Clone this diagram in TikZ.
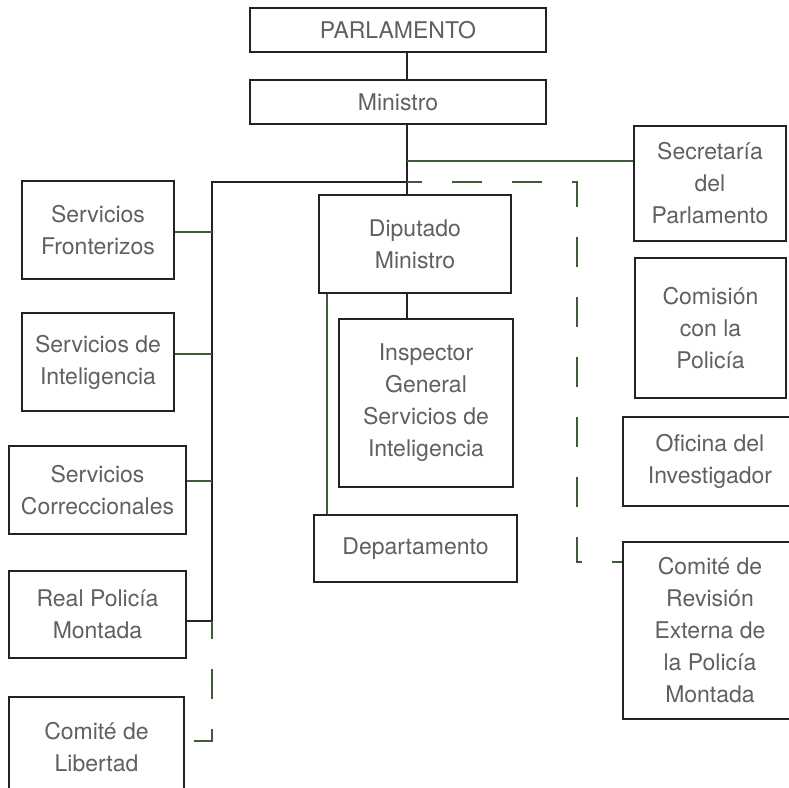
\documentclass[tikz,border=0pt]{standalone}
\usepackage{fontspec}
\setmainfont{TeX Gyre Heros}
\usepackage{xcolor}
\usepackage{tikz}
\usetikzlibrary{calc}

\definecolor{orgline}{HTML}{222222}
\definecolor{orggreen}{HTML}{3E5C38}
\definecolor{orgtext}{HTML}{606060}

\begin{document}
\begin{tikzpicture}[x=1pt, y=-1pt,
    box/.style={draw=orgline, line width=2.5pt, inner sep=0pt, align=center,
        text=orgtext, font=\fontsize{23}{32}\selectfont},
    blackline/.style={draw=orgline, line width=2.5pt},
    greenline/.style={draw=orggreen, line width=2.2pt},
    greendash/.style={draw=orggreen, line width=2.2pt, dash pattern=on 30pt off 30pt}]

\useasboundingbox (0,0) rectangle (789,787);
\clip (0,0) rectangle (789,787);

% Top of the chart
\node[box, minimum width=296pt, minimum height=44pt] (parl) at (398,30) {PARLAMENTO};
\node[box, minimum width=296pt, minimum height=44pt] (mini) at (398,102) {Ministro};
\coordinate (spine) at (407,0);

% Left column
\node[box, minimum width=152pt, minimum height=98pt] (fron) at (98,230) {Servicios\\Fronterizos};
\node[box, minimum width=152pt, minimum height=98pt] (inte) at (98,362) {Servicios de\\Inteligencia};
\node[box, minimum width=177pt, minimum height=88pt] (corr) at (97.5,490) {Servicios\\Correccionales};
\node[box, minimum width=177pt, minimum height=87pt] (rcmp) at (97.5,614.5) {Real Policía\\Montada};
\node[box, minimum width=175pt, minimum height=100pt] (libe) at (96.5,747) {Comité de\\Libertad};

% Middle column
\node[box, minimum width=192pt, minimum height=98pt] (dipu) at (415,244) {Diputado\\Ministro};
\node[box, minimum width=174pt, minimum height=168pt] (insp) at (426,403) {Inspector\\General\\Servicios de\\Inteligencia};
\node[box, minimum width=203pt, minimum height=67pt] (dept) at (415.5,548.5) {Departamento};

% Right column
\node[box, minimum width=152pt, minimum height=115pt] (secr) at (710,183.5) {Secretaría\\del\\Parlamento};
\node[box, minimum width=151pt, minimum height=140pt] (comi) at (710.5,328) {Comisión\\con la\\Policía};
\node[box, minimum width=174pt, minimum height=89pt] (ofic) at (710,461.5) {Oficina del\\Investigador};
\node[box, minimum width=174pt, minimum height=177pt] (revi) at (710,630.5) {Comité de\\Revisión\\Externa de\\la Policía\\Montada};

% Junctions
\coordinate (jsec) at (407,161);
\coordinate (jbus) at (407,182);
\coordinate (bus) at (212,182);
\coordinate (busend) at (212,621);
\coordinate (dcorner) at (577,182);

% Black lines
\draw[blackline] (parl.south -| spine) -- (mini.north -| spine);
\draw[blackline] (mini.south -| spine) -- (dipu.north -| spine);
\draw[blackline] (dipu.south -| spine) -- (insp.north -| spine);
\draw[blackline] (jbus) -- (bus) -- (busend) -- (busend -| rcmp.east);

% Green lines
\draw[greenline] (jsec) -- (jsec -| secr.west);
\draw[greenline] (fron.east |- 0,232) -- (bus |- 0,232);
\draw[greenline] (inte.east |- 0,354) -- (bus |- 0,354);
\draw[greenline] (corr.east |- 0,481) -- (bus |- 0,481);
\draw[greenline] (dipu.south -| 327,0) -- (dept.north -| 327,0);

% Dashed lines
\draw[greendash, dash phase=15pt] (jbus) -- (dcorner) -- (dcorner |- 0,562) -- (revi.west |- 0,562);
\draw[greendash, dash phase=12pt] (busend) -- (busend |- 0,741) -- (libe.east |- 0,741);

\end{tikzpicture}
\end{document}
